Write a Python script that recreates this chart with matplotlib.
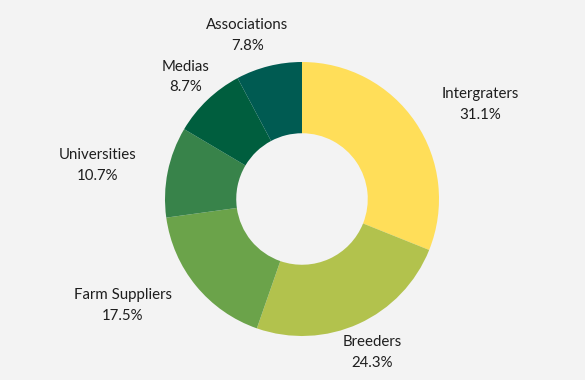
import numpy as np
import matplotlib
matplotlib.use("Agg")
import matplotlib.pyplot as plt

plt.rcParams["font.family"] = ["Lato", "DejaVu Sans"]

labels = ["Intergraters", "Breeders", "Farm Suppliers", "Universities", "Medias", "Associations"]
values = [31.1, 24.3, 17.5, 10.7, 8.7, 7.8]
colors = ["#FFDE59", "#B2C24D", "#6BA34A", "#38834A", "#005E3E", "#005B52"]

BG = "#F3F3F3"
W, H = 585, 380
cx, cy, R = 302, H - 199, 137

fig = plt.figure(figsize=(W / 100, H / 100), dpi=100, facecolor=BG)
ax = fig.add_axes([0, 0, 1, 1])
ax.set_facecolor(BG)

ax.pie(values, colors=colors, startangle=90, counterclock=False,
       center=(cx, cy), radius=R, frame=True,
       wedgeprops=dict(width=R * 0.52, edgecolor="none"))
ax.set_xlim(0, W)
ax.set_ylim(0, H)
ax.set_aspect("equal")
ax.axis("off")

# labels: name + percent, placed outside the ring along each slice's mid angle
total = sum(values)
ang = 90.0
for lab, v in zip(labels, values):
    span = v / total * 360
    mid = np.deg2rad(ang - span / 2)
    ang -= span
    r = R * 1.23
    x, y = cx + r * np.cos(mid), cy + r * np.sin(mid)
    c = np.cos(mid)
    ha = "center"
    if c > 0.6:
        ha = "left"
    elif c < -0.72:
        ha = "right"
    if c < 0 and np.sin(mid) > 0.9:
        x -= 14
    ax.text(x, y, f"{lab}\n{v}%", ha=ha, va="center", multialignment="center",
            fontsize=10.8, color="#1e1e1e", linespacing=1.6)

fig.savefig("out.png", dpi=100, facecolor=BG)
